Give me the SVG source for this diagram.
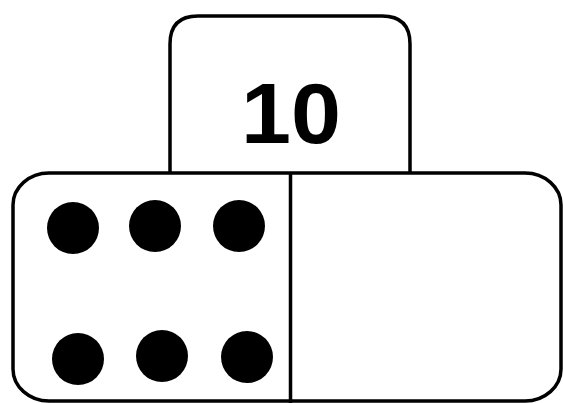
<svg xmlns="http://www.w3.org/2000/svg" width="563" height="403" viewBox="0 0 563 403">
<style>
.ln{fill:#fff;stroke:#000;stroke-width:3.5}
.dot{fill:#000}
.num{font-family:"Liberation Sans",Arial,sans-serif;font-weight:bold;font-size:85px;fill:#000}
</style>
<rect width="563" height="403" fill="#fff"/>
<g id="total">
<path class="ln" d="M170,173 V44 Q170,16 198,16 H382 Q410,16 410,44 V173"/>
<text class="num" x="291" y="143" text-anchor="middle" textLength="100" lengthAdjust="spacingAndGlyphs">10</text>
</g>
<g id="domino">
<rect class="ln" x="13" y="173" width="548" height="228" rx="36" ry="32"/>
<line class="ln" x1="290.5" y1="173" x2="290.5" y2="403"/>
</g>
<g id="dots">
<circle class="dot" cx="73" cy="228" r="26"/>
<circle class="dot" cx="155" cy="226" r="26"/>
<circle class="dot" cx="239" cy="226" r="26"/>
<circle class="dot" cx="78" cy="359" r="26"/>
<circle class="dot" cx="162" cy="356" r="26"/>
<circle class="dot" cx="247" cy="357" r="26"/>
</g>
</svg>
